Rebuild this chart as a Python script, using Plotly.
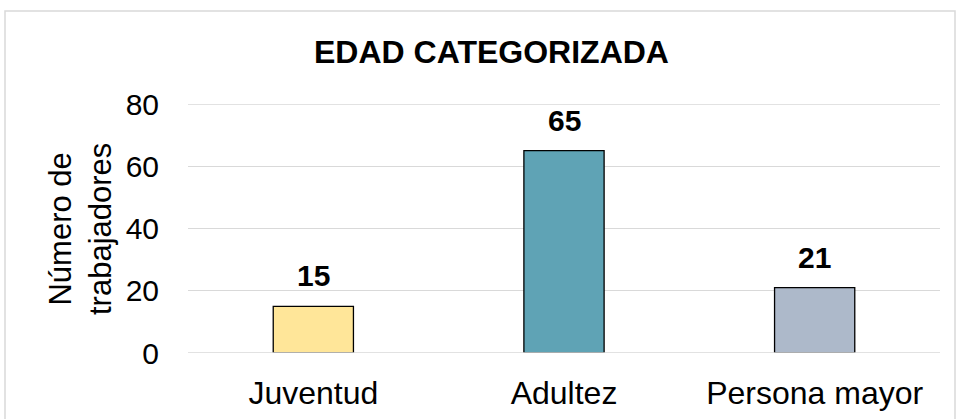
import plotly.graph_objects as go

categories = ["Juventud", "Adultez", "Persona mayor"]
values = [15, 65, 21]
colors = ["#FFE699", "#5FA3B5", "#ADB9CA"]
y_ticks = [0, 20, 40, 60, 80]

FONT = "Liberation Sans, Arial, sans-serif"
GRID = "#D9D9D9"

fig = go.Figure()
fig.add_trace(go.Bar(
    x=categories, y=values,
    marker=dict(color=colors, line=dict(color="black", width=1.3)),
    width=0.32,
    hoverinfo="x+y",
))

L, R, T, B = 188, 20, 104, 66
W, H = 960, 419
pw, ph = W - L - R, H - T - B

def px(x):
    return (x - L) / pw

def py(y):
    return (H - B - y) / ph

annotations = [
    dict(text=f"<b>{v}</b>", x=c, y=v, xref="x", yref="y", showarrow=False,
         xanchor="center", yanchor="bottom", yshift=12,
         font=dict(size=30, color="black"))
    for c, v in zip(categories, values)
]
annotations += [
    dict(text="<b>EDAD CATEGORIZADA</b>", xref="paper", yref="paper",
         x=px(491), y=py(52), showarrow=False, xanchor="center", yanchor="middle",
         font=dict(size=32, color="black")),
    dict(text="Número de<br>trabajadores", xref="paper", yref="paper",
         x=px(80), y=py(229), showarrow=False, xanchor="center", yanchor="middle",
         textangle=-90, font=dict(size=31, color="black")),
]

shapes = [dict(type="rect", xref="paper", yref="paper",
               x0=px(5), x1=px(955), y0=py(430), y1=py(11),
               line=dict(color=GRID, width=1.5), fillcolor="rgba(0,0,0,0)", layer="below")]
# gridlines at the range edges (0 and max) which plotly does not draw itself
shapes.append(dict(type="line", xref="paper", yref="y", x0=0, x1=1, y0=y_ticks[-1], y1=y_ticks[-1],
                   line=dict(color=GRID, width=1.3), layer="below"))
shapes.append(dict(type="line", xref="paper", yref="y", x0=0, x1=1, y0=y_ticks[0], y1=y_ticks[0],
                   line=dict(color=GRID, width=1.5), layer="above"))

fig.update_layout(
    width=W, height=H,
    margin=dict(l=L, r=R, t=T, b=B, autoexpand=False),
    paper_bgcolor="white", plot_bgcolor="white",
    showlegend=False,
    font=dict(family=FONT, color="black"),
    bargap=0.68,
    xaxis=dict(showgrid=False, showline=False, ticks="", automargin=False,
               tickfont=dict(size=32, color="black"), ticklabelstandoff=18),
    yaxis=dict(range=[0, 80], tickvals=y_ticks, showgrid=True, gridcolor=GRID, gridwidth=1.3,
               zeroline=False, showline=False, ticks="", automargin=False,
               tickfont=dict(size=30, color="black"), ticklabelstandoff=28),
    shapes=shapes,
    annotations=annotations,
)

fig.write_html("out.html", config={"displayModeBar": False},
               post_script="document.body.style.margin='0';document.body.style.overflow='hidden';")
